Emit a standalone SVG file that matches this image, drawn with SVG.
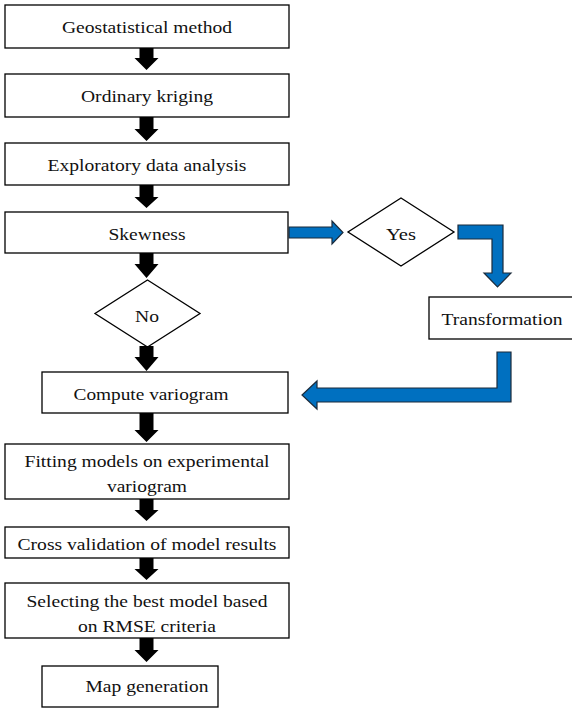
<svg xmlns="http://www.w3.org/2000/svg" width="572" height="718" viewBox="0 0 572 718">
<style>
.box{fill:#fff;stroke:#000;stroke-width:1.3}
.t{font-family:"Liberation Serif","DejaVu Serif",serif;font-size:17.5px;fill:#111;text-anchor:middle}
.ba{fill:#000;stroke:none}
.bl{fill:#0070C0;stroke:#1b2b3b;stroke-width:1.2;stroke-linejoin:miter}
</style>
<rect width="572" height="718" fill="#fff"/>
<g id="n1"><rect class="box" x="5" y="5" width="284" height="43"/><text class="t" x="147" y="33" textLength="170" lengthAdjust="spacingAndGlyphs">Geostatistical method</text></g>
<g id="n2"><rect class="box" x="5" y="74" width="284" height="43"/><text class="t" x="147" y="102" textLength="132" lengthAdjust="spacingAndGlyphs">Ordinary kriging</text></g>
<g id="n3"><rect class="box" x="5" y="143" width="284" height="42"/><text class="t" x="147" y="170.5" textLength="199" lengthAdjust="spacingAndGlyphs">Exploratory data analysis</text></g>
<g id="n4"><rect class="box" x="5" y="212" width="283" height="41"/><text class="t" x="147" y="239.5" textLength="77" lengthAdjust="spacingAndGlyphs">Skewness</text></g>
<g id="n5"><polygon class="box" points="147.5,280 200,313.5 147.5,347 95,313.5"/><text class="t" x="147" y="322" textLength="24" lengthAdjust="spacingAndGlyphs">No</text></g>
<g id="n6"><polygon class="box" points="401,198 454,232 401,266 348,232"/><text class="t" x="401" y="240" textLength="30" lengthAdjust="spacingAndGlyphs">Yes</text></g>
<g id="n7"><rect class="box" x="429" y="297" width="145" height="42"/><text class="t" x="502" y="325" textLength="121" lengthAdjust="spacingAndGlyphs">Transformation</text></g>
<g id="n8"><rect class="box" x="42" y="372" width="246" height="41"/><text class="t" x="151" y="399.5" textLength="155" lengthAdjust="spacingAndGlyphs">Compute variogram</text></g>
<g id="n9"><rect class="box" x="5" y="444" width="284" height="55"/><text class="t" x="147" y="467" textLength="245" lengthAdjust="spacingAndGlyphs">Fitting models on experimental</text><text class="t" x="147" y="492" textLength="80" lengthAdjust="spacingAndGlyphs">variogram</text></g>
<g id="n10"><rect class="box" x="5" y="527" width="284" height="31"/><text class="t" x="147" y="550" textLength="259" lengthAdjust="spacingAndGlyphs">Cross validation of model results</text></g>
<g id="n11"><rect class="box" x="5" y="583" width="284" height="55"/><text class="t" x="147" y="607" textLength="241" lengthAdjust="spacingAndGlyphs">Selecting the best model based</text><text class="t" x="147" y="632" textLength="138" lengthAdjust="spacingAndGlyphs">on RMSE criteria</text></g>
<g id="n12"><rect class="box" x="42" y="666" width="176" height="41"/><text class="t" x="147" y="692" textLength="123" lengthAdjust="spacingAndGlyphs">Map generation</text></g>
<g id="connectors">
<polygon class="ba" points="139.5,48 153.5,48 153.5,58 158.5,58 146.5,70 134.5,58 139.5,58"/>
<polygon class="ba" points="139.5,117 153.5,117 153.5,129 158.5,129 146.5,141 134.5,129 139.5,129"/>
<polygon class="ba" points="139.5,185 153.5,185 153.5,197 158.5,197 146.5,208 134.5,197 139.5,197"/>
<polygon class="ba" points="139.5,253 153.5,253 153.5,264 158.5,264 146.5,278 134.5,264 139.5,264"/>
<polygon class="ba" points="139.5,346 153.5,346 153.5,357 158.5,357 146.5,371 134.5,357 139.5,357"/>
<polygon class="ba" points="139.5,413 153.5,413 153.5,430 158.5,430 146.5,442 134.5,430 139.5,430"/>
<polygon class="ba" points="139.5,499 153.5,499 153.5,510 158.5,510 146.5,521 134.5,510 139.5,510"/>
<polygon class="ba" points="139.5,558 153.5,558 153.5,569 158.5,569 146.5,580 134.5,569 139.5,569"/>
<polygon class="ba" points="139.5,638 153.5,638 153.5,650 158.5,650 146.5,662 134.5,650 139.5,650"/>
<polygon class="bl" points="289,227 332,227 332,221 343,232.5 332,244 332,238 289,238"/>
<polygon class="bl" points="458,225 503,225 503,273 511,273 497.5,287 484,273 492,273 492,239 458,239"/>
<polygon class="bl" points="497,352 511,352 511,402 317,402 317,409 302,395 317,381 317,388 497,388"/>
</g>
</svg>
